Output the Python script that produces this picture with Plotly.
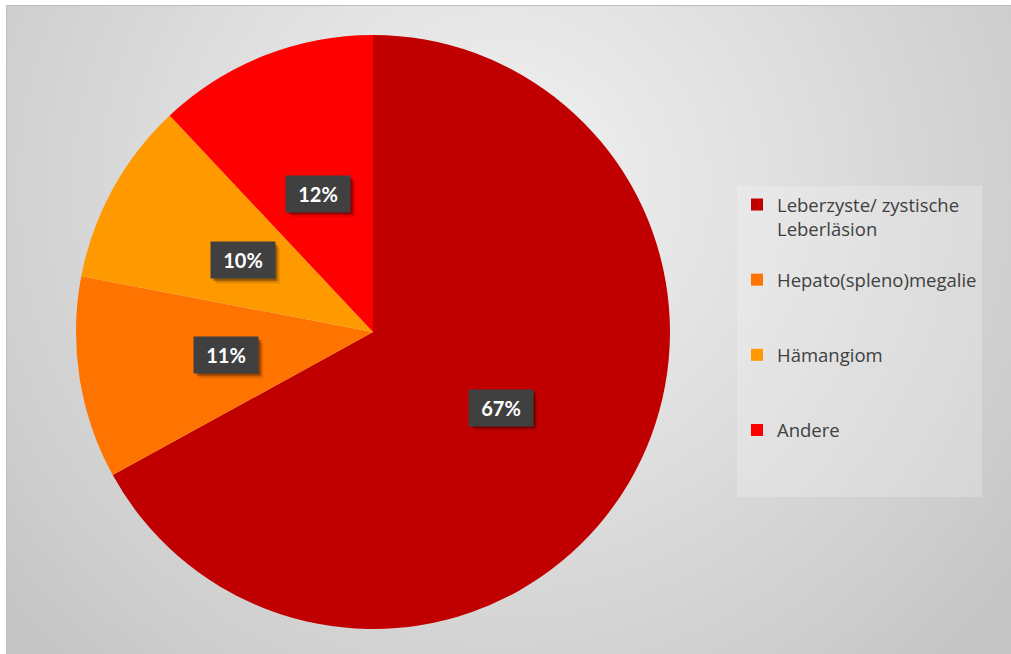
import base64
import math
import struct
import zlib

import numpy as np
import plotly.graph_objects as go

# ---- data -------------------------------------------------------------
categories = [
    "Leberzyste/ zystische<br>Leberläsion",
    "Hepato(spleno)megalie",
    "Hämangiom",
    "Andere",
]
shares = [67, 11, 10, 12]  # percent
colors = ["#C00000", "#FF7300", "#FF9900", "#FF0000"]

# ---- canvas geometry (pixels) ----------------------------------------
W, H = 1011, 654
FRAME_X, FRAME_Y = 6, 5          # chart area frame, top-left corner
PIE_CX, PIE_CY, PIE_R = 373, 332, 297
BADGE_W, BADGE_H = 64, 36


def png_gray(arr):
    """Encode a 2-D uint8 array as a grayscale PNG."""
    h, w = arr.shape
    raw = b"".join(b"\x00" + arr[i].tobytes() for i in range(h))

    def chunk(tag, data):
        body = tag + data
        return struct.pack(">I", len(data)) + body + struct.pack(">I", zlib.crc32(body) & 0xFFFFFFFF)

    ihdr = struct.pack(">IIBBBBB", w, h, 8, 0, 0, 0, 0)
    return (b"\x89PNG\r\n\x1a\n" + chunk(b"IHDR", ihdr)
            + chunk(b"IDAT", zlib.compress(raw, 9)) + chunk(b"IEND", b""))


# soft radial grey gradient for the chart area
bw, bh = W - FRAME_X, H - FRAME_Y
yy, xx = np.mgrid[0:bh, 0:bw]
gx, gy = 500 - FRAME_X, 190 - FRAME_Y
dist = np.sqrt((xx - gx) ** 2 + (yy - gy) ** 2)
t = np.clip(dist / 640.0, 0, 1) ** 1.1
grey = (241 - 43 * t).round().astype(np.uint8)
bg_uri = "data:image/png;base64," + base64.b64encode(png_gray(grey)).decode()

# legend labels padded to three lines so every entry gets the same slot
legend_labels = []
for c in categories:
    n = c.count("<br>") + 1
    legend_labels.append(c + "<br> " * (3 - n))

fig = go.Figure()
fig.add_trace(go.Pie(
    labels=legend_labels,
    values=shares,
    marker=dict(colors=colors, line=dict(width=0)),
    sort=False,
    direction="clockwise",
    rotation=0,
    textinfo="none",
    hoverinfo="label+percent",
    domain=dict(x=[(PIE_CX - PIE_R) / W, (PIE_CX + PIE_R) / W],
                y=[(H - PIE_CY - PIE_R) / H, (H - PIE_CY + PIE_R) / H]),
))

# percentage badges at half radius on each slice's mid-angle
total = sum(shares)
annotations = []
shapes = [dict(type="rect", xref="paper", yref="paper",
               x0=(FRAME_X + 0.5) / W, y0=-0.01, x1=1.01, y1=1 - (FRAME_Y + 0.5) / H,
               line=dict(color="#BDBDBD", width=1), fillcolor="rgba(0,0,0,0)")]
start = 0.0
for v in shares:
    span = 360.0 * v / total
    mid = math.radians(start + span / 2)
    start += span
    px = PIE_CX + 0.5 * PIE_R * math.sin(mid)
    py = PIE_CY - 0.5 * PIE_R * math.cos(mid)
    label = f"{round(100 * v / total)}%"
    # soft drop shadow behind the badge
    for off, alpha in ((5, 0.10), (3, 0.20), (2, 0.20)):
        shapes.append(dict(type="rect", xref="paper", yref="paper", layer="above",
                           x0=(px - BADGE_W / 2 + off) / W, x1=(px + BADGE_W / 2 + off) / W,
                           y0=1 - (py + BADGE_H / 2 + off) / H, y1=1 - (py - BADGE_H / 2 + off) / H,
                           line=dict(width=0), fillcolor=f"rgba(0,0,0,{alpha})"))
    annotations.append(dict(
        x=px / W, y=1 - py / H, xref="paper", yref="paper",
        xanchor="center", yanchor="middle", showarrow=False,
        width=BADGE_W - 6, height=BADGE_H - 6, borderpad=3,
        text=f"<b>{label}</b>", bgcolor="#404040",
        font=dict(family="Lato", size=20, color="white"),
    ))

fig.update_layout(
    width=W, height=H,
    margin=dict(l=0, r=0, t=0, b=0),
    paper_bgcolor="white",
    images=[dict(source=bg_uri, xref="paper", yref="paper",
                 x=FRAME_X / W, y=1 - FRAME_Y / H,
                 sizex=bw / W, sizey=bh / H,
                 xanchor="left", yanchor="top",
                 sizing="stretch", layer="below")],
    shapes=shapes,
    annotations=annotations,
    showlegend=True,
    legend=dict(
        x=737 / W, y=1 - 186 / H, xanchor="left", yanchor="top",
        bgcolor="rgba(255,255,255,0.22)",
        font=dict(family="Open Sans", size=18.5, color="#404040"),
        valign="top",
        traceorder="normal",
    ),
)

fig.write_html("out.html")
